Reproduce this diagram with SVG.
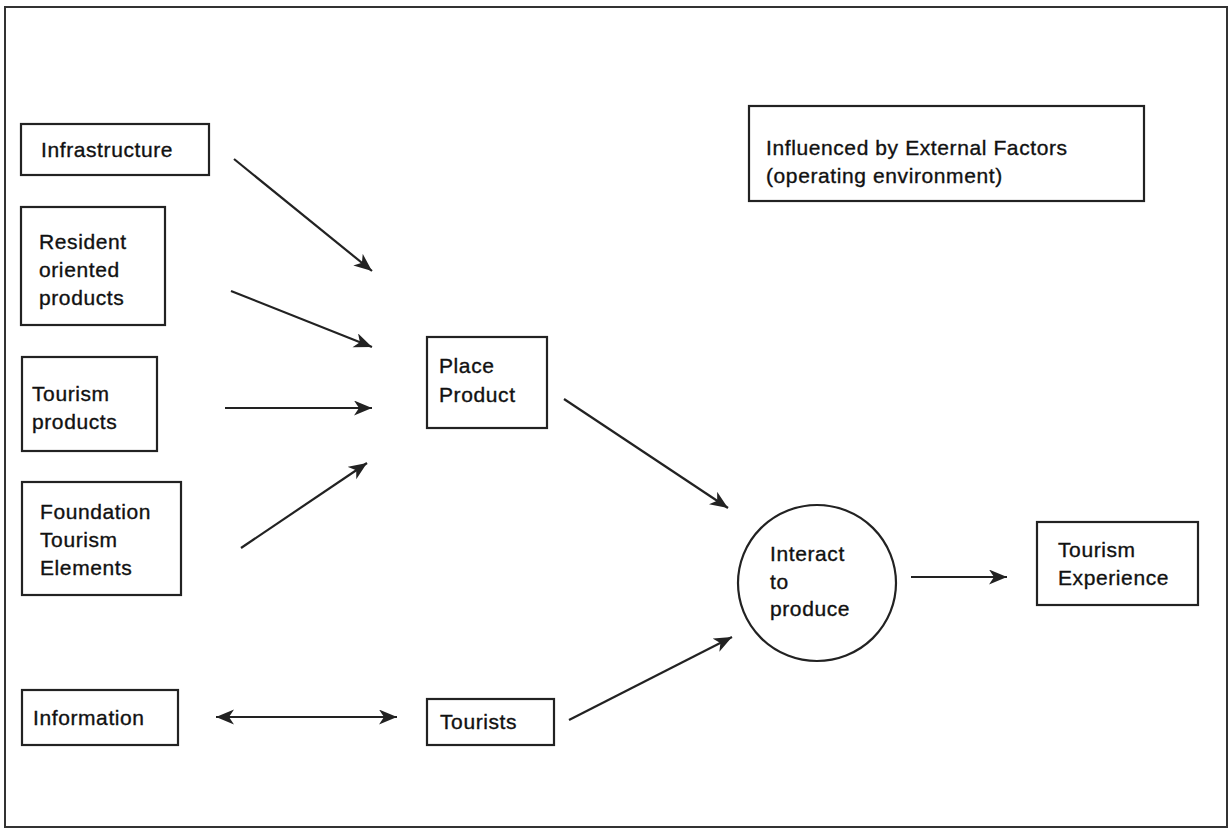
<svg xmlns="http://www.w3.org/2000/svg" width="1232" height="830" viewBox="0 0 1232 830">
<style>
.box{fill:#fff;stroke:#222;stroke-width:2.2}
.lbl{font-family:"Liberation Sans",Arial,sans-serif;font-size:21px;letter-spacing:0.6px;fill:#111;stroke:#111;stroke-width:0.35}
.conn{stroke:#222;stroke-width:2.2;fill:none}
</style>
<defs>
<marker id="ah" markerUnits="userSpaceOnUse" markerWidth="20" markerHeight="16" refX="18" refY="7.5" orient="auto-start-reverse">
<path d="M0,0 L18,7.5 L0,15 L5,7.5 Z" fill="#222"/>
</marker>
</defs>
<rect x="0" y="0" width="1232" height="830" fill="#fff"/>
<rect x="5" y="7" width="1222" height="820" fill="none" stroke="#333" stroke-width="2"/>

<g id="infrastructure"><rect class="box" x="21" y="124" width="188" height="51"/><text class="lbl" x="41" y="157">Infrastructure</text></g>
<g id="resident"><rect class="box" x="21" y="207" width="144" height="118"/><text class="lbl" x="39" y="249">Resident</text><text class="lbl" x="39" y="277">oriented</text><text class="lbl" x="39" y="305">products</text></g>
<g id="tourism-products"><rect class="box" x="22" y="357" width="135" height="94"/><text class="lbl" x="32" y="401">Tourism</text><text class="lbl" x="32" y="429">products</text></g>
<g id="foundation"><rect class="box" x="22" y="482" width="159" height="113"/><text class="lbl" x="40" y="519">Foundation</text><text class="lbl" x="40" y="547">Tourism</text><text class="lbl" x="40" y="575">Elements</text></g>
<g id="information"><rect class="box" x="22" y="690" width="156" height="55"/><text class="lbl" x="33" y="725">Information</text></g>
<g id="place-product"><rect class="box" x="427" y="337" width="120" height="91"/><text class="lbl" x="439" y="373">Place</text><text class="lbl" x="439" y="402">Product</text></g>
<g id="tourists"><rect class="box" x="427" y="699" width="127" height="46"/><text class="lbl" x="440" y="729">Tourists</text></g>
<g id="interact"><ellipse class="box" cx="817" cy="583" rx="79" ry="78"/><text class="lbl" x="770" y="561">Interact</text><text class="lbl" x="770" y="589">to</text><text class="lbl" x="770" y="616">produce</text></g>
<g id="tourism-experience"><rect class="box" x="1037" y="522" width="161" height="83"/><text class="lbl" x="1058" y="557">Tourism</text><text class="lbl" x="1058" y="585">Experience</text></g>
<g id="external"><rect class="box" x="749" y="106" width="395" height="95"/><text class="lbl" x="766" y="155">Influenced by External Factors</text><text class="lbl" x="766" y="183">(operating environment)</text></g>

<g id="connectors">
<line class="conn" x1="234" y1="159" x2="372" y2="271" marker-end="url(#ah)"/>
<line class="conn" x1="231" y1="291" x2="372" y2="347" marker-end="url(#ah)"/>
<line class="conn" x1="225" y1="408" x2="372" y2="408" marker-end="url(#ah)"/>
<line class="conn" x1="241" y1="548" x2="367" y2="463" marker-end="url(#ah)"/>
<line class="conn" x1="216" y1="717" x2="397" y2="717" marker-start="url(#ah)" marker-end="url(#ah)"/>
<line class="conn" x1="564" y1="399" x2="728" y2="508" marker-end="url(#ah)"/>
<line class="conn" x1="569" y1="720" x2="732" y2="637" marker-end="url(#ah)"/>
<line class="conn" x1="911" y1="577" x2="1007" y2="577" marker-end="url(#ah)"/>
</g>
</svg>
